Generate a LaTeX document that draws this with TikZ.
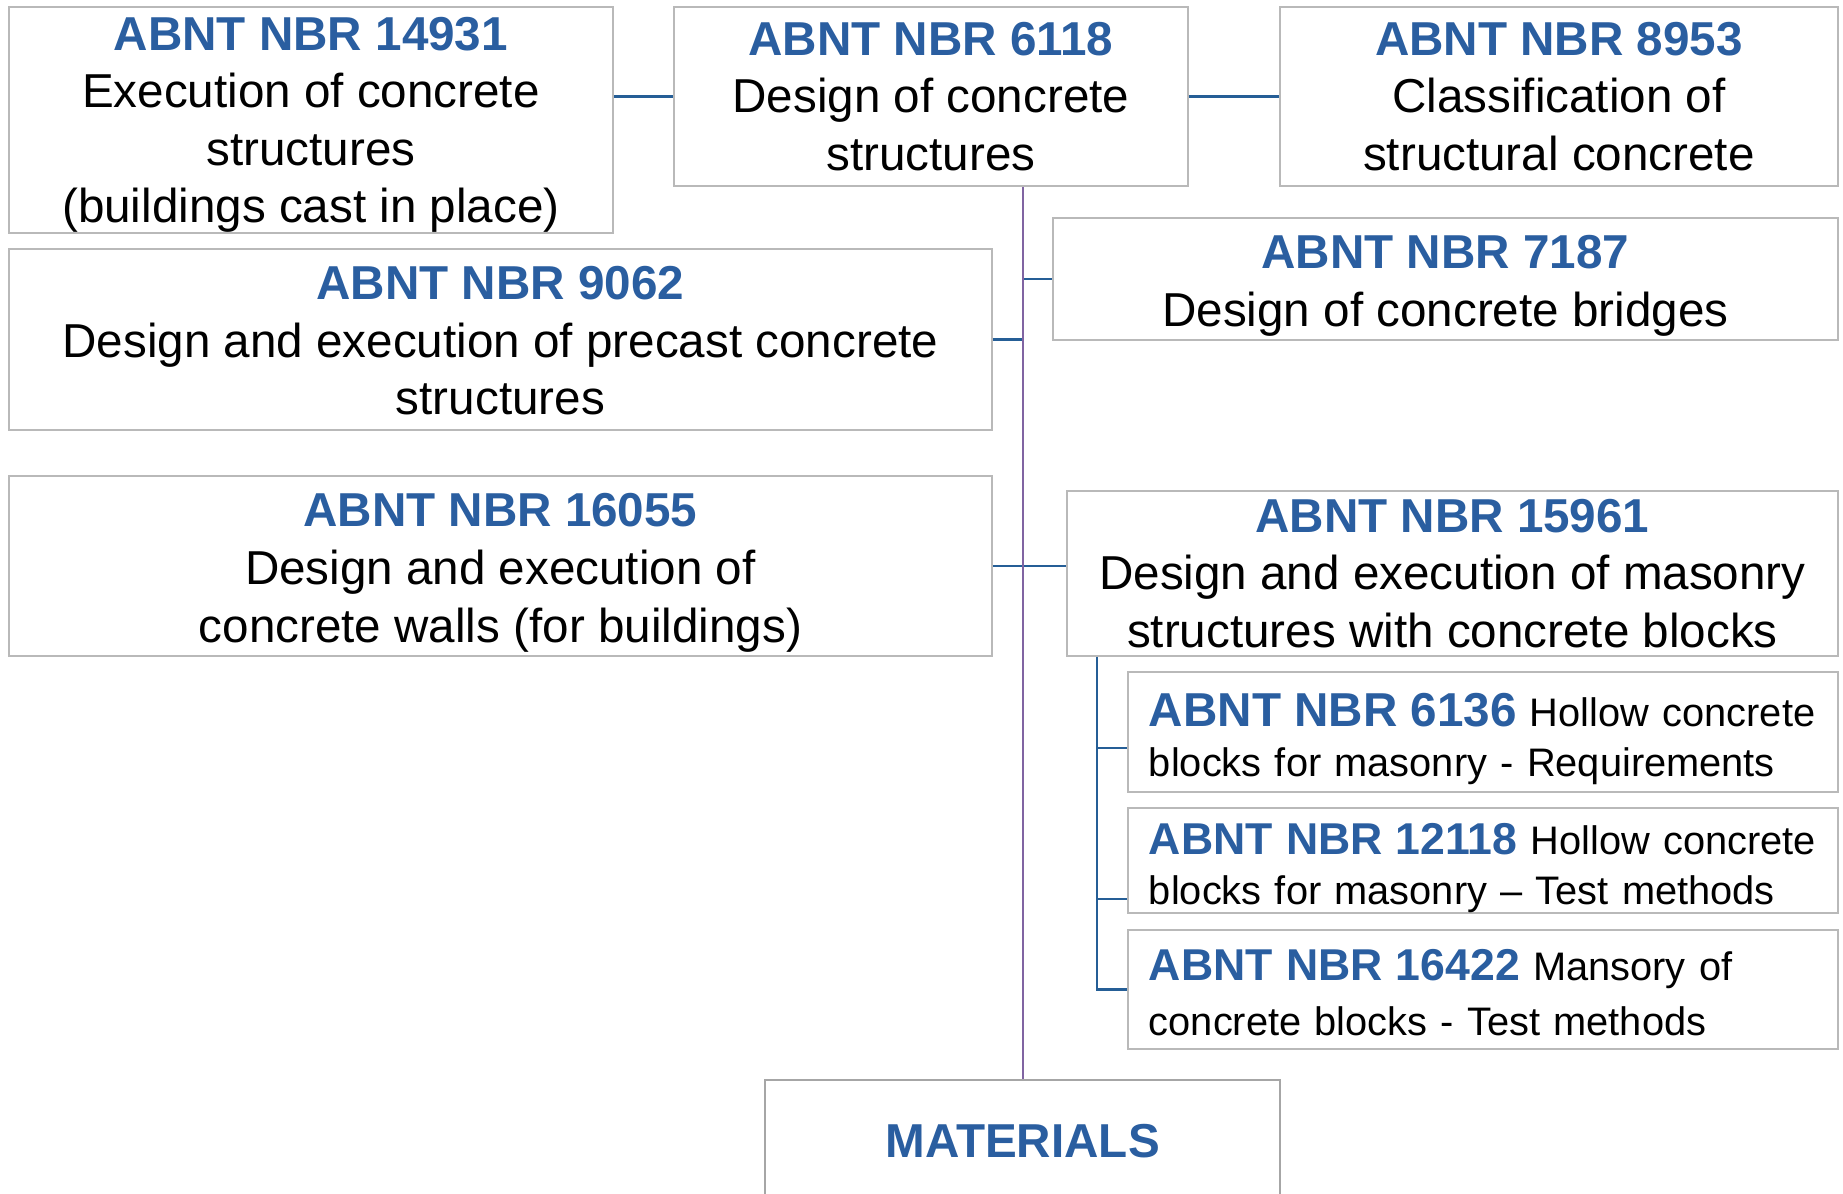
\documentclass[tikz,border=0pt]{standalone}
\usepackage{fontspec}
\setmainfont{Liberation Sans}
\definecolor{titleblue}{RGB}{42,94,160}
\definecolor{linkblue}{RGB}{37,94,150}
\definecolor{trunkpurple}{RGB}{128,100,162}
\definecolor{boxgray}{RGB}{185,185,185}
\definecolor{matgray}{RGB}{166,166,166}
\newcommand{\bigsz}{\fontsize{23.8}{28.8}\selectfont}
\newcommand{\smallsz}{\fontsize{19.9}{25}\selectfont}
\newcommand{\nbr}[2][23.8]{{\fontsize{#1}{28.8}\selectfont\bfseries\color{titleblue}#2}}
\newcommand{\up}[1][23.5pt]{\rule{0pt}{#1}}
\begin{document}
\begin{tikzpicture}[x=1pt, y=-1pt,
    box/.style={draw=boxgray, line width=0.9pt, anchor=north west, inner sep=0pt, align=center, font=\bigsz},
    subbox/.style={draw=boxgray, line width=0.9pt, anchor=north west, inner xsep=10.5pt, inner ysep=0pt, text width=334pt, align=left, font=\smallsz},
    link/.style={draw=linkblue, line width=1.1pt},
    trunk/.style={draw=trunkpurple, line width=0.9pt}]
    % Khung ảnh
    \useasboundingbox (0,0) rectangle (921.5,597);
    % Hàng trên cùng
    \node[box, minimum width=302pt, minimum height=113pt] (n14931) at (4,3) {\up[21.5pt]\nbr{ABNT NBR 14931}\\Execution of concrete\\structures\\(buildings cast in place)};
    \node[box, minimum width=257pt, minimum height=89.5pt] (n6118) at (336.5,3) {\nbr{ABNT NBR 6118}\\Design of concrete\\structures};
    \node[box, minimum width=279pt, minimum height=89.5pt] (n8953) at (639.5,3) {\nbr{ABNT NBR 8953}\\Classification of\\structural concrete};
    % Các ô giữa
    \node[box, minimum width=392.5pt, minimum height=61pt] (n7187) at (526,108.5) {\up\nbr{ABNT NBR 7187}\\Design of concrete bridges};
    \node[box, minimum width=491.5pt, minimum height=90.5pt] (n9062) at (4,124) {\up[18pt]\nbr{ABNT NBR 9062}\\Design and execution of precast concrete\\structures};
    \node[box, minimum width=491.5pt, minimum height=90pt] (n16055) at (4,237.5) {\up\nbr{ABNT NBR 16055}\\Design and execution of\\concrete walls (for buildings)};
    \node[box, minimum width=385.5pt, minimum height=82.5pt] (n15961) at (533,245) {\nbr{ABNT NBR 15961}\\Design and execution of masonry\\structures with concrete blocks};
    % Khối bê tông
    \node[subbox, minimum height=60pt] (n6136) at (563.5,335.5) {\up\nbr{ABNT NBR 6136} Hollow concrete\\blocks for masonry - Requirements};
    \node[subbox, minimum height=52.5pt] (n12118) at (563.5,403.5) {\up\nbr[22.3]{ABNT NBR 12118} Hollow concrete\\blocks for masonry – Test methods};
    \node[subbox, minimum height=59.5pt] (n16422) at (563.5,464.5) {\up[19pt]\nbr[22.3]{ABNT NBR 16422} Mansory of\\[2.4pt]concrete blocks - Test methods};
    % Vật liệu
    \node[box, draw=matgray, line width=1.2pt, minimum width=257.5pt, minimum height=61pt] (mat) at (382,539.5) {\nbr{MATERIALS}};
    % Đường nối
    \draw[link] (n14931.east |- n6118.west) -- (n6118.west);
    \draw[link] (n6118.east) -- (n8953.west);
    \draw[link] (mat.north |- n7187.west) -- (n7187.west);
    \draw[link] (n9062.east) -- (n9062.east -| mat.north);
    \draw[link] (n16055.east) -- (n16055.east -| n15961.west);
    \draw[trunk] (n6118.south -| mat.north) -- (mat.north);
    % Nhánh khối bê tông
    \coordinate (sub) at (548.5,0);
    \coordinate (b6136) at ([yshift=-8pt]n6136.west);
    \coordinate (b12118) at ([yshift=7.5pt]n12118.south west);
    \draw[link] (n15961.south -| sub) |- (n16422.west);
    \draw[link] (sub |- b6136) -- (b6136);
    \draw[link] (sub |- b12118) -- (b12118);
\end{tikzpicture}
\end{document}
